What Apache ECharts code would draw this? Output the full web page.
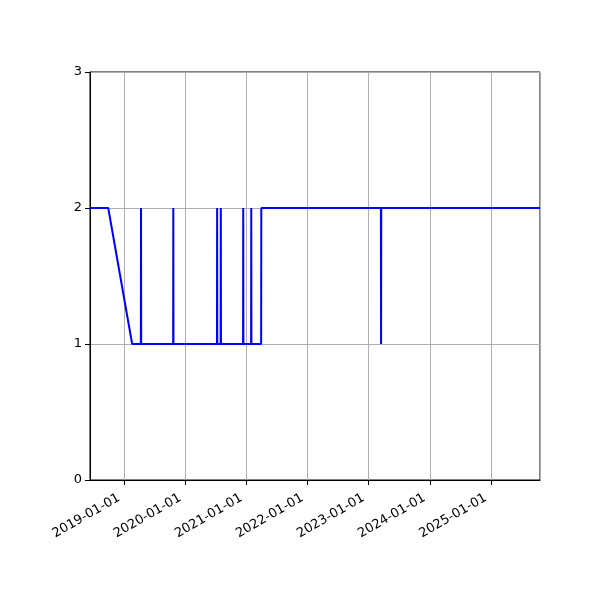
<!DOCTYPE html>
<html>
<head>
<meta charset="utf-8">
<script src="https://cdn.jsdelivr.net/npm/echarts@6/dist/echarts.min.js"></script>
<style>
  html, body { margin: 0; padding: 0; background: #fff; }
  #chart { width: 600px; height: 600px; }
</style>
</head>
<body>
<div id="chart"></div>
<script>
// 数据
var dates = ['2018-06-10', '2018-09-27', '2019-02-17',
    '2019-04-10', '2019-04-11', '2019-04-12',
    '2019-10-20', '2019-10-21', '2019-10-22',
    '2020-07-08', '2020-07-09', '2020-07-10',
    '2020-07-30', '2020-07-31', '2020-08-01',
    '2020-12-11', '2020-12-12', '2020-12-13',
    '2021-01-28', '2021-01-29', '2021-01-30',
    '2021-03-29', '2021-03-30',
    '2023-03-15', '2023-03-16', '2023-03-17',
    '2025-10-21'];
var values = [2, 2, 1,
    1, 2, 1,
    1, 2, 1,
    1, 2, 1,
    1, 2, 1,
    1, 2, 1,
    1, 2, 1,
    1, 2,
    2, 1, 2,
    2];
var yTicks = [0, 1, 2, 3];
var xStart = '2018-06-10';
var xEnd = '2025-10-21';

function pad(n) {
    return n < 10 ? '0' + n : '' + n;
}

//日期格式化
function fmtDate(v) {
    var d = new Date(v);
    return d.getFullYear() + '-' + pad(d.getMonth() + 1) + '-' + pad(d.getDate());
}

var seriesData = dates.map(function (d, i) {
    return [d, values[i]];
});

var myChart = echarts.init(document.getElementById('chart'));

var font = 'DejaVu Sans';
var year = 365 * 24 * 3600 * 1000;

var option = {
    animation: false,
    grid: {
        left: 90,
        right: 60,
        top: 72,
        bottom: 120,
        show: true,
        borderColor: '#000',
        borderWidth: 1
    },
    xAxis: {
        type: 'time',
        min: xStart,
        max: xEnd,
        minInterval: year,
        maxInterval: year + 86400000,
        axisLine: { lineStyle: { color: '#000', width: 1 } },
        axisTick: { show: true, length: 5, lineStyle: { color: '#000' } },
        axisLabel: {
            rotate: 30,
            color: '#000',
            fontFamily: font,
            fontSize: 13,
            margin: 14,
            padding: [0, 6, 0, 0],
            showMinLabel: false,
            showMaxLabel: false,
            formatter: function (v) {
                return fmtDate(v);
            }
        },
        splitLine: { show: true, lineStyle: { color: '#b0b0b0', width: 1 } }
    },
    yAxis: {
        type: 'value',
        min: yTicks[0],
        max: yTicks[yTicks.length - 1],
        interval: 1,
        axisLine: { show: true, lineStyle: { color: '#000', width: 1 } },
        axisTick: { show: true, length: 5, lineStyle: { color: '#000' } },
        axisLabel: {
            color: '#000',
            fontFamily: font,
            fontSize: 13,
            margin: 8
        },
        splitLine: { show: true, lineStyle: { color: '#b0b0b0', width: 1 } }
    },
    series: [{
        type: 'line',
        data: seriesData,
        showSymbol: false,
        symbol: 'none',
        lineStyle: { color: '#0000ff', width: 2 },
        itemStyle: { color: '#0000ff' }
    }]
};

myChart.setOption(option);
</script>
</body>
</html>
